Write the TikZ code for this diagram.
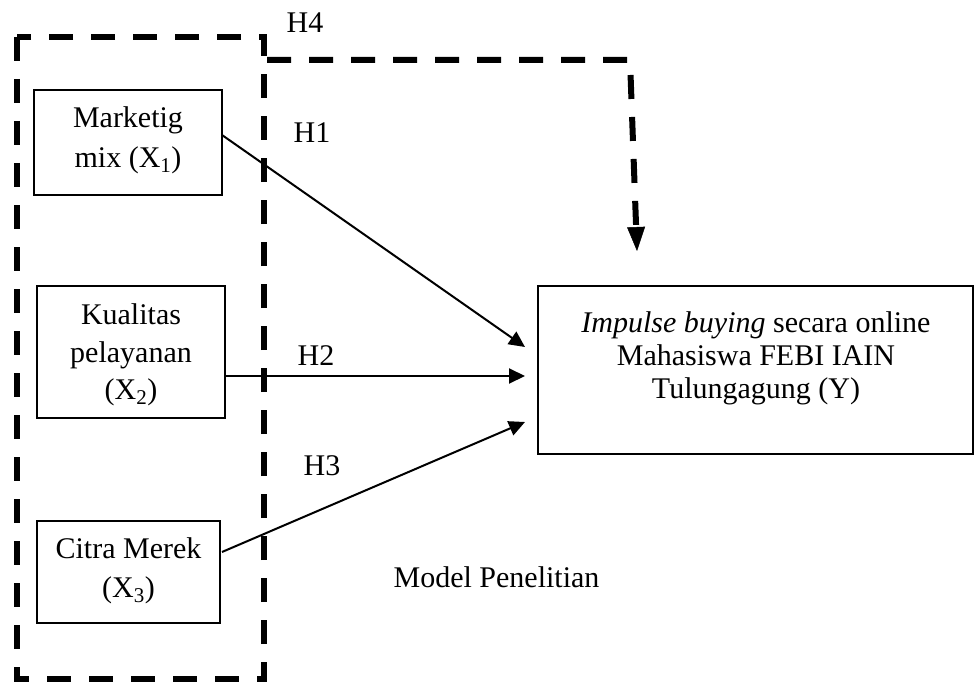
\documentclass[tikz,border=0pt]{standalone}
\usepackage{fontspec}
\setmainfont{Liberation Serif}
\usetikzlibrary{arrows.meta}
\begin{document}
\begin{tikzpicture}[x=1pt,y=-1pt,
  box/.style={draw, line width=1.5pt, inner sep=0pt},
  txt/.style={align=center, inner sep=0pt},
  lbl/.style={inner sep=0pt, anchor=base, font=\fontsize{30}{36}\selectfont},
  dashbox/.style={line width=6pt, dash pattern=on 24pt off 18pt},
  conn/.style={line width=2pt, -{Triangle[length=16pt,width=15pt]}},
  hfour/.style={line width=6pt, dash pattern=on 24pt off 18pt, -{Triangle[length=24pt,width=18pt,line width=0.5pt]}}
]
\useasboundingbox (0,0) rectangle (975,682);
% group box
\draw[dashbox] (17,37) rectangle (264,679);
% boxes
\node[box, minimum width=188pt, minimum height=105pt] (X1) at (128,142.5) {};
\node[box, minimum width=188pt, minimum height=132pt] (X2) at (131,352) {};
\node[box, minimum width=183pt, minimum height=102pt] (X3) at (128.5,572) {};
\node[box, minimum width=435pt, minimum height=168pt] (Y) at (755.5,370) {};
% box texts
\node[txt, font=\fontsize{30}{40}\selectfont] (X1t) at (128,140.4) {Marketig\\mix (X\textsubscript{1})};
\node[txt, font=\fontsize{30}{37.5}\selectfont] (X2t) at (131,354.9) {Kualitas\\pelayanan\\(X\textsubscript{2})};
\node[txt, font=\fontsize{30}{39}\selectfont] (X3t) at (128.5,570.9) {Citra Merek\\(X\textsubscript{3})};
\node[txt, font=\fontsize{30}{33}\selectfont] (Yt) at (756,358) {\textit{Impulse buying} secara online\\Mahasiswa FEBI IAIN\\Tulungagung (Y)};
% labels
\node[lbl] (H4) at (305,33) {H4};
\node[lbl] (H1) at (312,143) {H1};
\node[lbl] (H2) at (316,365) {H2};
\node[lbl] (H3) at (322,475) {H3};
\node[lbl] (MP) at (496.5,587) {Model Penelitian};
% arrow ends
\coordinate (s1) at (222,135);
\coordinate (s2) at (225,376);
\coordinate (s3) at (222,552);
\coordinate (t1) at (525,347);
\coordinate (t2) at (525,376);
\coordinate (t3) at (525,422);
\draw[conn] (s1) -- (t1);
\draw[conn] (s2) -- (t2);
\draw[conn] (s3) -- (t3);
% H4 path
\coordinate (h4s) at (267,60);
\coordinate (h4c) at (630,60);
\coordinate (h4e) at (637,251);
\draw[hfour] (h4s) -- (h4c) -- (h4e);
\end{tikzpicture}
\end{document}
